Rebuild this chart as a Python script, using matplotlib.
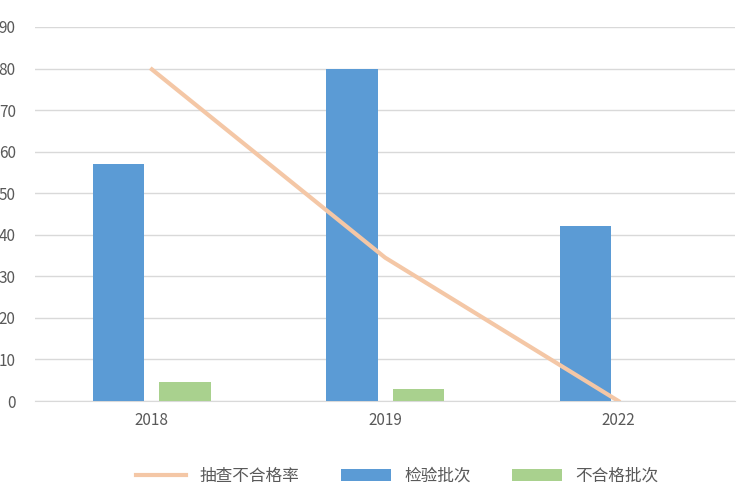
import matplotlib
matplotlib.use("Agg")
import matplotlib.pyplot as plt
import numpy as np

plt.rcParams['font.family'] = ['Noto Sans CJK SC', 'DejaVu Sans']

categories = ['2018', '2019', '2022']
inspected = [57, 80, 42]
unqualified = [4.6, 3, 0]
rate = [79.8, 34.5, 0]

fig = plt.figure(figsize=(7.5, 5), dpi=100)
ax = fig.add_axes([0.047, 0.198, 0.933, 0.748])
x = np.arange(len(categories))
w = 0.22
ax.bar(x - 0.142, inspected, w, color='#5b9bd5', label='检验批次', zorder=3)
ax.bar(x + 0.142, unqualified, w, color='#a9d18e', label='不合格批次', zorder=3)
ax.plot(x, rate, color='#f4c7a6', lw=3, label='抽查不合格率', zorder=4)

ax.set_xlim(-0.5, 2.5)
ax.set_ylim(0, 90)
ax.set_yticks(range(0, 91, 10))
ax.set_xticks(x)
ax.set_xticklabels(categories)
ax.grid(axis='y', color='#d9d9d9', lw=1, zorder=0)
for s in ['top', 'right', 'left']:
    ax.spines[s].set_visible(False)
ax.spines['bottom'].set_color('#d9d9d9')
ax.tick_params(axis='both', length=0, labelsize=11, colors='#595959')
ax.tick_params(axis='y', pad=14)
ax.tick_params(axis='x', pad=8)
fig.legend(loc='lower center', bbox_to_anchor=(0.53, 0.0), ncol=3, frameon=False,
           fontsize=12, handlelength=3, columnspacing=2.5, labelcolor='#595959')
fig.savefig('out.png')
